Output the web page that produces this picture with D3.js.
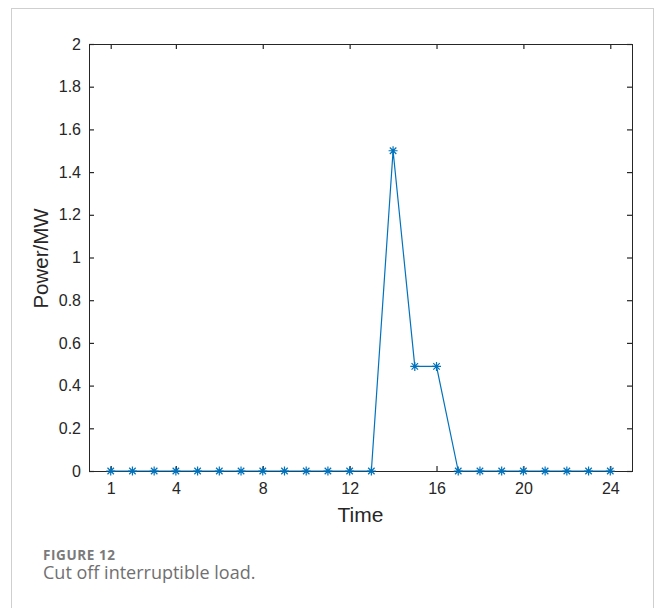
<!DOCTYPE html>
<html>
<head>
<meta charset="utf-8">
<script src="https://cdn.jsdelivr.net/npm/d3@7"></script>
<style>
    body { margin: 0; background: #fff; }
    svg text { font-family: "Liberation Sans", Arial, sans-serif; fill: #262626; }
    .caption-label { font-family: "Open Sans", "Noto Sans", sans-serif; font-weight: 700; fill: #7a7a7a; }
    .caption-text { font-family: "Open Sans", "Noto Sans", sans-serif; fill: #707070; }
</style>
</head>
<body>
<div id="chart"></div>
<script>
// Hours and the interruptible load cut off at each hour (MW).
const hours = d3.range(1, 25);
const power = [0, 0, 0, 0, 0, 0, 0, 0, 0, 0, 0, 0, 0, 1.5, 0.49, 0.49, 0, 0, 0, 0, 0, 0, 0, 0];
const xTicks = [1, 4, 8, 12, 16, 20, 24];
const yTicks = [0, 0.2, 0.4, 0.6, 0.8, 1, 1.2, 1.4, 1.6, 1.8, 2];

const W = 656, H = 608;
const margin = { top: 44, left: 89, bottom: 137, right: 24 };
const width = W - margin.left - margin.right;
const height = H - margin.top - margin.bottom;
const blue = "#0072BD";
const ink = "#262626";
const tickLen = 5;

const svg = d3.select("#chart").append("svg")
    .attr("width", W)
    .attr("height", H);

// Light frame round the figure.
svg.append("rect")
    .attr("x", 11.5).attr("y", 8.5)
    .attr("width", 642).attr("height", 620)
    .attr("fill", "none")
    .attr("stroke", "#cfcfcf");

const g = svg.append("g")
    .attr("transform", `translate(${margin.left}, ${margin.top})`);

const x = d3.scaleLinear().domain([0, 25]).range([0, width]);
const y = d3.scaleLinear().domain([0, 2]).range([height, 0]);

// Axes, MATLAB style: ticks pointing inward on all four sides.
g.append("g")
    .attr("transform", `translate(0, ${height})`)
    .call(d3.axisBottom(x).tickValues(xTicks).tickSize(-tickLen).tickPadding(12).tickFormat(d3.format("d")))
    .call(a => a.selectAll("text").attr("font-size", 16).attr("dy", "0.71em"));

g.append("g")
    .call(d3.axisTop(x).tickValues(xTicks).tickSize(-tickLen).tickFormat(""));

g.append("g")
    .call(d3.axisLeft(y).tickValues(yTicks).tickSize(-tickLen).tickPadding(8).tickFormat(d => d3.format("")(+d.toFixed(1))))
    .call(a => a.selectAll("text").attr("font-size", 16));

g.append("g")
    .attr("transform", `translate(${width}, 0)`)
    .call(d3.axisRight(y).tickValues(yTicks).tickSize(-tickLen).tickFormat(""));

g.selectAll(".domain, .tick line").attr("stroke", ink).attr("stroke-width", 1.2);
g.selectAll(".domain").attr("shape-rendering", "crispEdges");

// Data line.
const line = d3.line()
    .x((d, i) => x(hours[i]))
    .y(d => y(d));

g.append("path")
    .attr("d", line(power))
    .attr("fill", "none")
    .attr("stroke", blue)
    .attr("stroke-width", 1.2);

// Asterisk markers.
const r = 4.5, rd = r * 0.72;
const star = `M${-r},0H${r}M0,${-r}V${r}M${-rd},${-rd}L${rd},${rd}M${-rd},${rd}L${rd},${-rd}`;
g.selectAll(".mark")
    .data(power)
    .join("path")
    .attr("class", "mark")
    .attr("transform", (d, i) => `translate(${x(hours[i])}, ${y(d)})`)
    .attr("d", star)
    .attr("fill", "none")
    .attr("stroke", blue)
    .attr("stroke-width", 1.2);

// Axis titles.
g.append("text")
    .attr("x", width / 2)
    .attr("y", height + 51)
    .attr("text-anchor", "middle")
    .attr("font-size", 21)
    .text("Time");

g.append("text")
    .attr("transform", "rotate(-90)")
    .attr("x", -(y(1) + 1))
    .attr("y", -41)
    .attr("text-anchor", "middle")
    .attr("font-size", 20.5)
    .text("Power/MW");

// Caption.
svg.append("text")
    .attr("class", "caption-label")
    .attr("x", 43)
    .attr("y", 560)
    .attr("font-size", 13.5)
    .attr("letter-spacing", 0.6)
    .text("FIGURE 12");

svg.append("text")
    .attr("class", "caption-text")
    .attr("x", 43)
    .attr("y", 579)
    .attr("font-size", 18)
    .text("Cut off interruptible load.");
</script>
</body>
</html>
